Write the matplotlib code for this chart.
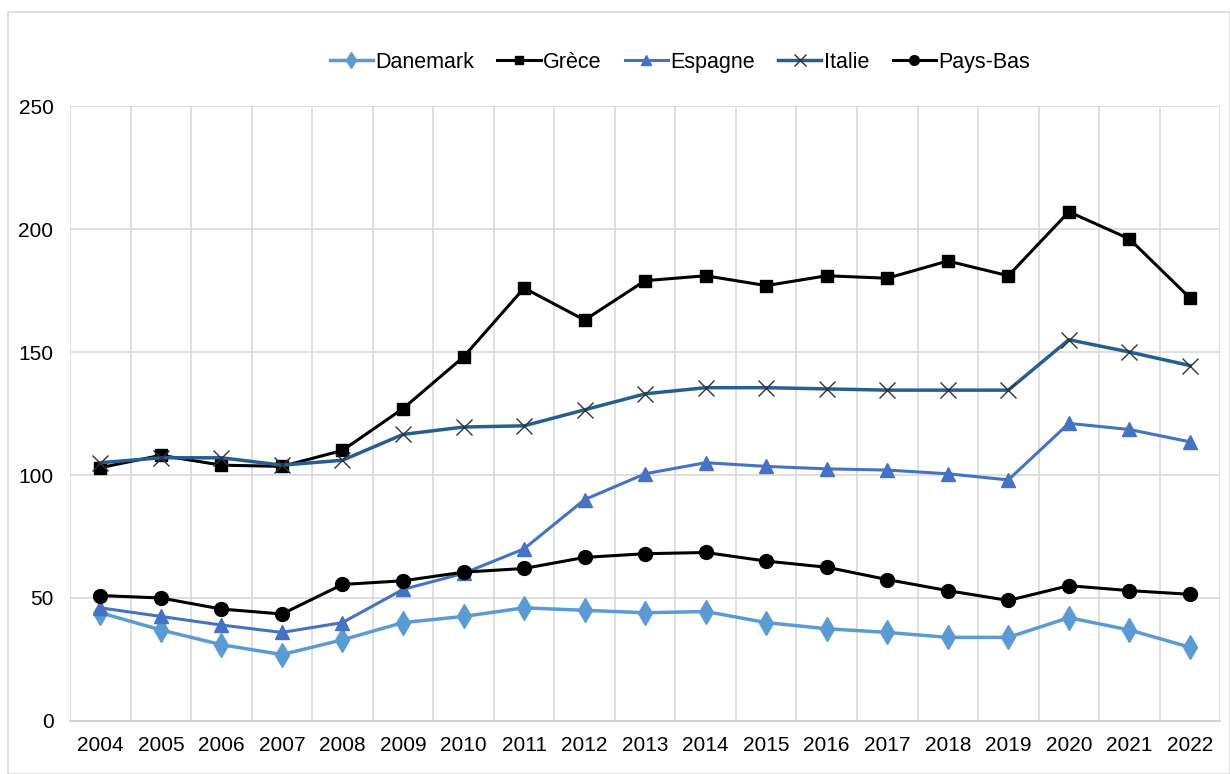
import numpy as np
import matplotlib.pyplot as plt
from matplotlib.patches import Rectangle

plt.rcParams['font.family'] = ['Liberation Sans', 'DejaVu Sans']

# --- données ---
annees = [str(a) for a in range(2004, 2023)]
danemark = [44, 37, 31, 27, 33, 40, 42.5, 46, 45, 44, 44.5, 40, 37.5, 36, 34, 34, 42, 37, 30]
grece = [103, 108, 104, 103.5, 110, 127, 148, 176, 163, 179, 181, 177, 181, 180, 187, 181, 207, 196, 172]
espagne = [46, 42.5, 39, 36, 40, 53.5, 60, 70, 90, 100.5, 105, 103.5, 102.5, 102, 100.5, 98, 121, 118.5, 113.5]
italie = [105, 107, 107, 104, 106, 116.5, 119.5, 120, 126.5, 133, 135.5, 135.5, 135, 134.5, 134.5, 134.5, 155, 150, 144.5]
pays_bas = [51, 50, 45.5, 43.5, 55.5, 57, 60.5, 62, 66.5, 68, 68.5, 65, 62.5, 57.5, 53, 49, 55, 53, 51.5]

fig = plt.figure(figsize=(12.3, 7.74), dpi=100)
ax = fig.add_axes([0.057, 0.0685, 0.935, 0.7945])

x = np.arange(len(annees))
ax.plot(x, danemark, color='#5B9BD5', lw=2.5, marker='d', ms=12, label='Danemark')
ax.plot(x, grece, color='black', lw=2.2, marker='s', ms=9, label='Grèce')
ax.plot(x, espagne, color='#4472C4', lw=2.2, marker='^', ms=10, label='Espagne')
ax.plot(x, italie, color='#255E91', lw=2.5, marker='x', ms=12, mec='#333333', mew=1.0, label='Italie')
ax.plot(x, pays_bas, color='black', lw=2.2, marker='o', ms=10, label='Pays-Bas')

ax.set_xlim(-0.5, len(annees) - 0.5)
ax.set_ylim(0, 250)
ax.set_yticks(np.arange(0, 251, 50))
ax.set_xticks(x)
ax.set_xticklabels(annees, fontsize=15)
ax.set_xticks(np.arange(-0.5, len(annees)), minor=True)
ax.tick_params(axis='both', which='both', length=0)
ax.tick_params(axis='y', labelsize=15, pad=12)
ax.tick_params(axis='x', pad=11)
ax.grid(axis='y', which='major', color='#D9D9D9', lw=1.2)
ax.grid(axis='x', which='minor', color='#D9D9D9', lw=1.2)
for s in ['top', 'right', 'left']:
    ax.spines[s].set_visible(False)
ax.spines['bottom'].set_color('#D0D0D0')
ax.spines['bottom'].set_linewidth(1.3)
ax.set_axisbelow(True)

ax.legend(loc='upper center', bbox_to_anchor=(0.53, 1.12), ncol=5, frameon=False,
          fontsize=15.5, handlelength=2.0, handletextpad=0.1, columnspacing=1.1,
          markerscale=0.7)

# cadre du graphique
fig.patches.append(Rectangle((8 / 1230, 0), 1 - 8 / 1230, 1 - 12 / 774, transform=fig.transFigure,
                             fill=False, edgecolor='#D9D9D9', lw=1.2))

fig.savefig('out.png', dpi=100)
